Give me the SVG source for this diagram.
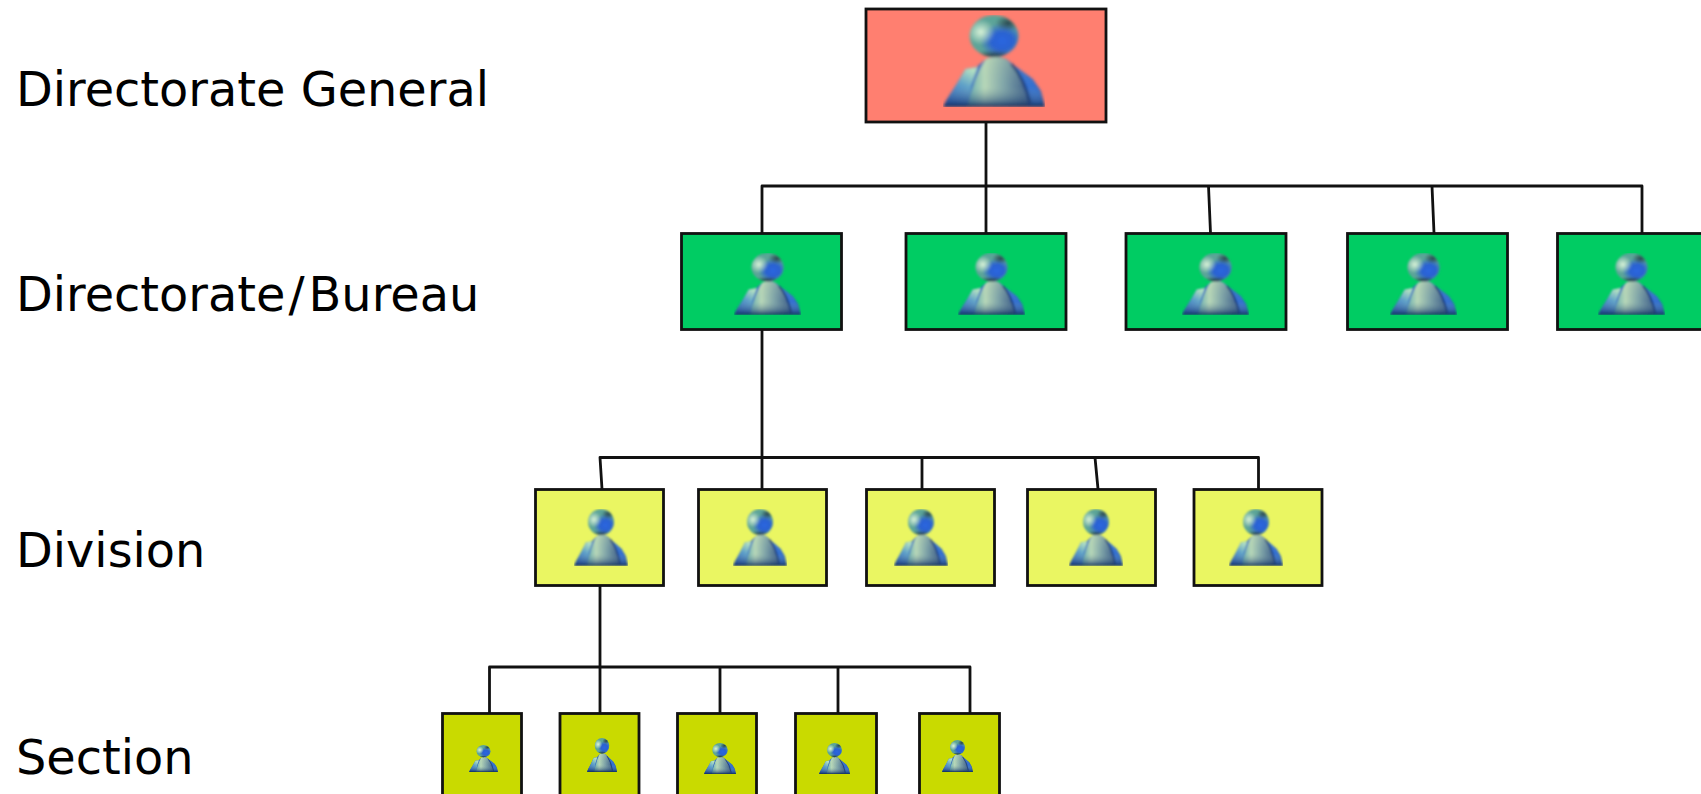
<svg xmlns="http://www.w3.org/2000/svg" width="1701" height="794" viewBox="0 0 1701 794">
<style>
.lbl{font-family:"DejaVu Sans",Verdana,sans-serif;font-size:47.800px;fill:#000}
.box{stroke:#111;stroke-width:2.800}
.dg{fill:#FF7F70}.dir{fill:#00CC63}.div{fill:#EAF662}.sec{fill:#C9DA00}
#connectors path{fill:none;stroke:#111;stroke-width:2.800;stroke-linejoin:round}
</style>
<defs>
<linearGradient id="torsoG" x1="0" y1="0" x2="1" y2="0">
<stop offset="0" stop-color="#5fa8b0"/><stop offset="0.28" stop-color="#b8d8b8"/><stop offset="0.6" stop-color="#7fa4a8"/><stop offset="1" stop-color="#3c5c88"/>
</linearGradient>
<linearGradient id="shade" x1="0" y1="0" x2="0" y2="1">
<stop offset="0" stop-color="#d8e8b0" stop-opacity="0.2"/><stop offset="0.6" stop-color="#88a8a8" stop-opacity="0"/><stop offset="0.88" stop-color="#2a4c78" stop-opacity="0.55"/><stop offset="1" stop-color="#0c2a58" stop-opacity="0.95"/>
</linearGradient>
<linearGradient id="armG" x1="0.700" y1="0" x2="0.200" y2="1">
<stop offset="0" stop-color="#b4e4c4"/><stop offset="0.4" stop-color="#62a4c8"/><stop offset="1" stop-color="#2456c0"/>
</linearGradient>
<radialGradient id="hiG"><stop offset="0" stop-color="#d8f2d8"/><stop offset="1" stop-color="#d8f2d8" stop-opacity="0"/></radialGradient>
<radialGradient id="blueG"><stop offset="0" stop-color="#2a66e0"/><stop offset="0.5" stop-color="#2c62d0"/><stop offset="1" stop-color="#2c62d0" stop-opacity="0"/></radialGradient>
<radialGradient id="darkG"><stop offset="0" stop-color="#1c2c38"/><stop offset="1" stop-color="#1c2c38" stop-opacity="0"/></radialGradient>
<clipPath id="headClip"><ellipse cx="50" cy="21" rx="24" ry="21"/></clipPath>
<filter id="soft" x="-5%" y="-5%" width="110%" height="110%"><feGaussianBlur stdDeviation="1.500"/></filter>
<symbol id="person" viewBox="0 0 100 92" preserveAspectRatio="none">
<g filter="url(#soft)">
<path d="M0 92L4 84L14 68L22 54L33 52L42 44Q52 40 62 44L72 52L88 64L96 76L100 92Z" fill="#2a60c0"/>
<path d="M1 90L14 68L22 54L34 52L28 70L25 91Z" fill="url(#armG)"/>
<path d="M72 53L88 65L95 78L97 91H88Q84 68 72 53Z" fill="#3470d0"/>
<path d="M42 44Q52 40 62 44Q78 60 84 92H24Q30 62 42 44Z" fill="url(#torsoG)"/>
<path d="M0 92L4 84L14 68L22 54L33 52L42 44Q52 40 62 44L72 52L88 64L96 76L100 92Z" fill="url(#shade)"/>
<path d="M67 49Q80 64 85 88" fill="none" stroke="#1e3660" stroke-width="2.500" opacity="0.800"/>
<g clip-path="url(#headClip)">
<rect x="24" y="0" width="54" height="44" fill="#5ca498"/>
<ellipse cx="58" cy="26" rx="22" ry="18" fill="url(#blueG)"/>
<ellipse cx="37" cy="17" rx="14" ry="13" fill="url(#hiG)"/>
<ellipse cx="64" cy="8" rx="13" ry="8" fill="url(#darkG)" opacity="0.800"/>
<ellipse cx="50" cy="42" rx="24" ry="7" fill="url(#darkG)"/>
</g>
</g>
</symbol>
</defs>
<rect width="1701" height="794" fill="#fff"/>
<g id="connectors">
<path d="M986 122V233M762 233V186H1642V233M1208.500 186L1210.500 233M1432 186L1434 233"/>
<path d="M762 329V489M602 489L600 457.500H1258.500V489M922 457.500V489M1095 457.500L1098 489"/>
<path d="M600 586V713M489.500 713V667H970V713M720 667V713M838 667V713"/>
</g>
<g id="label-dg"><text class="lbl" x="16" y="105.500">Directorate General</text></g>
<g id="label-dir"><text class="lbl" x="16" y="310.500">Directorate<tspan dx="3">/</tspan><tspan dx="4">Bureau</tspan></text></g>
<g id="label-div"><text class="lbl" x="16" y="567">Division</text></g>
<g id="label-sec"><text class="lbl" x="16" y="774">Section</text></g>
<g id="dg"><rect class="box dg" x="866" y="9" width="240" height="113"/><use href="#person" x="943" y="15" width="102" height="92"/></g>
<g id="dir1"><rect class="box dir" x="681.500" y="233.500" width="160" height="96"/><use href="#person" x="734" y="253" width="67" height="62"/></g>
<g id="dir2"><rect class="box dir" x="906" y="233.500" width="160" height="96"/><use href="#person" x="958" y="253" width="67" height="62"/></g>
<g id="dir3"><rect class="box dir" x="1126" y="233.500" width="160" height="96"/><use href="#person" x="1182" y="253" width="67" height="62"/></g>
<g id="dir4"><rect class="box dir" x="1347.500" y="233.500" width="160" height="96"/><use href="#person" x="1390" y="253" width="67" height="62"/></g>
<g id="dir5"><rect class="box dir" x="1557.500" y="233.500" width="160" height="96"/><use href="#person" x="1598" y="253" width="67" height="62"/></g>
<g id="div1"><rect class="box div" x="535.500" y="489.500" width="128" height="96"/><use href="#person" x="574" y="509" width="54" height="57"/></g>
<g id="div2"><rect class="box div" x="698.500" y="489.500" width="128" height="96"/><use href="#person" x="733" y="509" width="54" height="57"/></g>
<g id="div3"><rect class="box div" x="866.500" y="489.500" width="128" height="96"/><use href="#person" x="894" y="509" width="54" height="57"/></g>
<g id="div4"><rect class="box div" x="1027.500" y="489.500" width="128" height="96"/><use href="#person" x="1069" y="509" width="54" height="57"/></g>
<g id="div5"><rect class="box div" x="1194" y="489.500" width="128" height="96"/><use href="#person" x="1229" y="509" width="54" height="57"/></g>
<g id="sec1"><rect class="box sec" x="442.500" y="713.500" width="79" height="100"/><use href="#person" x="469" y="745" width="29" height="27"/></g>
<g id="sec2"><rect class="box sec" x="560" y="713.500" width="79" height="100"/><use href="#person" x="587" y="738" width="30" height="34"/></g>
<g id="sec3"><rect class="box sec" x="677.500" y="713.500" width="79" height="100"/><use href="#person" x="704" y="743" width="32" height="31"/></g>
<g id="sec4"><rect class="box sec" x="795.500" y="713.500" width="81" height="100"/><use href="#person" x="819" y="743" width="31" height="31"/></g>
<g id="sec5"><rect class="box sec" x="919.500" y="713.500" width="80" height="100"/><use href="#person" x="942" y="740" width="31" height="32"/></g>
</svg>
